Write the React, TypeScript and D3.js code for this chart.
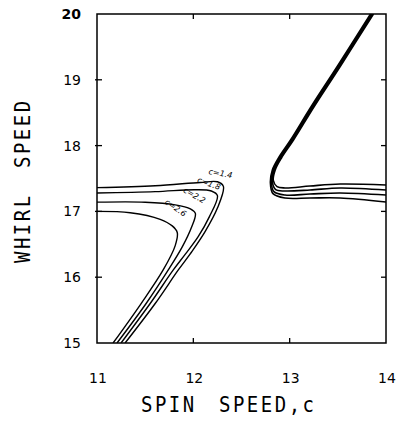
import React from "react";
import * as d3 from "d3";

const W = 416;
const H = 439;

const xDomain: [number, number] = [11, 14];
const yDomain: [number, number] = [15, 20];
const xTicks = [11, 12, 13, 14];
const yTicks = [15, 16, 17, 18, 19, 20];
const xTickLabels = ["11", "12", "13", "14"];
const yTickLabels = ["15", "16", "17", "18", "19", "20"];

const xTitleWords = ["SPIN", "SPEED,c"];
const yTitleWords = ["WHIRL", "SPEED"];

const curveLabels = ["c=1.4", "c=1.8", "c=2.2", "c=2.6"];

// left family (branches entering from the left border)
const leftC14: [number, number][] = [
  [10.98, 17.36], [11.604, 17.39], [12.073, 17.44], [12.25, 17.45], [12.312, 17.38],
  [12.25, 17.05], [12.125, 16.7], [11.99, 16.4], [11.844, 16.11], [11.604, 15.6], [11.292, 15.0],
];
const leftC18: [number, number][] = [
  [10.98, 17.28], [11.604, 17.3], [12.021, 17.33], [12.187, 17.31], [12.25, 17.24],
  [12.167, 16.92], [12.052, 16.62], [11.917, 16.35], [11.792, 16.11], [11.552, 15.6], [11.25, 15.0],
];
const leftC22: [number, number][] = [
  [10.98, 17.14], [11.5, 17.14], [11.812, 17.1], [11.969, 17.04], [12.021, 16.97],
  [11.979, 16.75], [11.885, 16.46], [11.74, 16.11], [11.51, 15.6], [11.208, 15.0],
];
const leftC26: [number, number][] = [
  [10.98, 17.0], [11.344, 16.98], [11.656, 16.88], [11.781, 16.78], [11.833, 16.68],
  [11.812, 16.48], [11.687, 16.11], [11.458, 15.6], [11.167, 15.0],
];

// right family (band from the top, turning into branches to the right border)
const rightA: [number, number][] = [
  [13.87, 20.0], [13.528, 19.21], [13.258, 18.602], [13.04, 18.085], [12.915, 17.812],
  [12.85, 17.629], [12.83, 17.47], [12.869, 17.376], [12.952, 17.356], [13.211, 17.386],
  [13.523, 17.416], [14.0, 17.401],
];
const rightB: [number, number][] = [
  [13.86, 20.0], [13.517, 19.21], [13.247, 18.602], [13.029, 18.085], [12.905, 17.812],
  [12.84, 17.629], [12.82, 17.455], [12.855, 17.33], [12.952, 17.31], [13.211, 17.325],
  [13.523, 17.356], [14.0, 17.325],
];
const rightC: [number, number][] = [
  [13.85, 20.0], [13.507, 19.21], [13.237, 18.602], [13.019, 18.085], [12.895, 17.812],
  [12.83, 17.629], [12.81, 17.44], [12.837, 17.3], [12.952, 17.249], [13.211, 17.264],
  [13.523, 17.28], [14.0, 17.249],
];
const rightD: [number, number][] = [
  [13.839, 20.0], [13.497, 19.21], [13.227, 18.602], [13.009, 18.085], [12.884, 17.812],
  [12.82, 17.629], [12.8, 17.43], [12.827, 17.27], [12.952, 17.204], [13.211, 17.204],
  [13.523, 17.204], [14.0, 17.143],
];

const leftCurves = [leftC14, leftC18, leftC22, leftC26];
const rightCurves = [rightA, rightB, rightC, rightD];

// label anchor points (data coords) and rotation
const labelX = [12.277, 12.152, 11.997, 11.8];
const labelY = [17.538, 17.386, 17.21, 17.02];
const labelRot = [10, 20, 30, 35];

export default function App() {
  const left = 97, right = 386, top = 14, bottom = 343;
  const x = d3.scaleLinear().domain(xDomain).range([left, right]);
  const y = d3.scaleLinear().domain(yDomain).range([bottom, top]);
  const line = d3
    .line<[number, number]>()
    .x((d) => x(d[0]))
    .y((d) => y(d[1]))
    .curve(d3.curveCatmullRom.alpha(0.5));

  const tickLen = 5;
  const font = "'DejaVu Sans', sans-serif";
  const mono = "'DejaVu Sans Mono', monospace";

  return (
    <svg
      width={W}
      height={H}
      style={{ position: "absolute", left: 0, top: 0, background: "#fff" }}
    >
      <rect x={0} y={0} width={W} height={H} fill="#fff" />
      <defs>
        <clipPath id="plot">
          <rect x={left} y={top} width={right - left} height={bottom - top} />
        </clipPath>
      </defs>
      {/* frame */}
      <rect
        x={left}
        y={top}
        width={right - left}
        height={bottom - top}
        fill="none"
        stroke="#000"
        strokeWidth={1.5}
      />
      {/* ticks */}
      {xTicks.slice(1, -1).map((t) => (
        <g key={"xt" + t}>
          <line x1={x(t)} x2={x(t)} y1={bottom} y2={bottom - tickLen} stroke="#000" strokeWidth={1.3} />
          <line x1={x(t)} x2={x(t)} y1={top} y2={top + tickLen} stroke="#000" strokeWidth={1.3} />
        </g>
      ))}
      {yTicks.slice(1, -1).map((t) => (
        <g key={"yt" + t}>
          <line x1={left - 2} x2={left + tickLen} y1={y(t)} y2={y(t)} stroke="#000" strokeWidth={1.3} />
          <line x1={right} x2={right - tickLen} y1={y(t)} y2={y(t)} stroke="#000" strokeWidth={1.3} />
        </g>
      ))}
      {/* tick labels */}
      {xTicks.map((t, i) => (
        <text
          key={"xl" + t}
          x={x(t) + 1}
          y={383}
          textAnchor="middle"
          fontFamily={font}
          fontSize={14}
          fill="#000"
        >
          {xTickLabels[i]}
        </text>
      ))}
      {yTicks.map((t, i) => (
        <text
          key={"yl" + t}
          x={81}
          y={y(t) + 5}
          textAnchor="end"
          fontFamily={font}
          fontSize={14}
          fontWeight={i === yTicks.length - 1 ? "bold" : "normal"}
          fill="#000"
        >
          {yTickLabels[i]}
        </text>
      ))}
      {/* curves */}
      <g clipPath="url(#plot)" fill="none" stroke="#000" strokeWidth={1.4}>
        {leftCurves.map((c, i) => (
          <path key={"lc" + i} d={line(c) || ""} />
        ))}
        {rightCurves.map((c, i) => (
          <path key={"rc" + i} d={line(c) || ""} strokeWidth={1.6} />
        ))}
      </g>
      {/* curve labels */}
      {curveLabels.map((s, i) => (
        <text
          key={"cl" + i}
          transform={`translate(${x(labelX[i])},${y(labelY[i])}) rotate(${labelRot[i]})`}
          textAnchor="middle"
          fontFamily={font}
          fontStyle="italic"
          fontSize={8}
          fill="#000"
        >
          {s}
        </text>
      ))}
      {/* axis titles */}
      <g fontFamily={mono} fontSize={19} fill="#000" letterSpacing={2.5}>
        <text transform={`translate(141,412) scale(1,1.1)`}>{xTitleWords[0]}</text>
        <text transform={`translate(219,412) scale(1,1.1)`}>{xTitleWords[1]}</text>
        <text transform={`translate(30,263) rotate(-90) scale(1,1.1)`}>{yTitleWords[0]}</text>
        <text transform={`translate(30,168) rotate(-90) scale(1,1.1)`}>{yTitleWords[1]}</text>
      </g>
    </svg>
  );
}
